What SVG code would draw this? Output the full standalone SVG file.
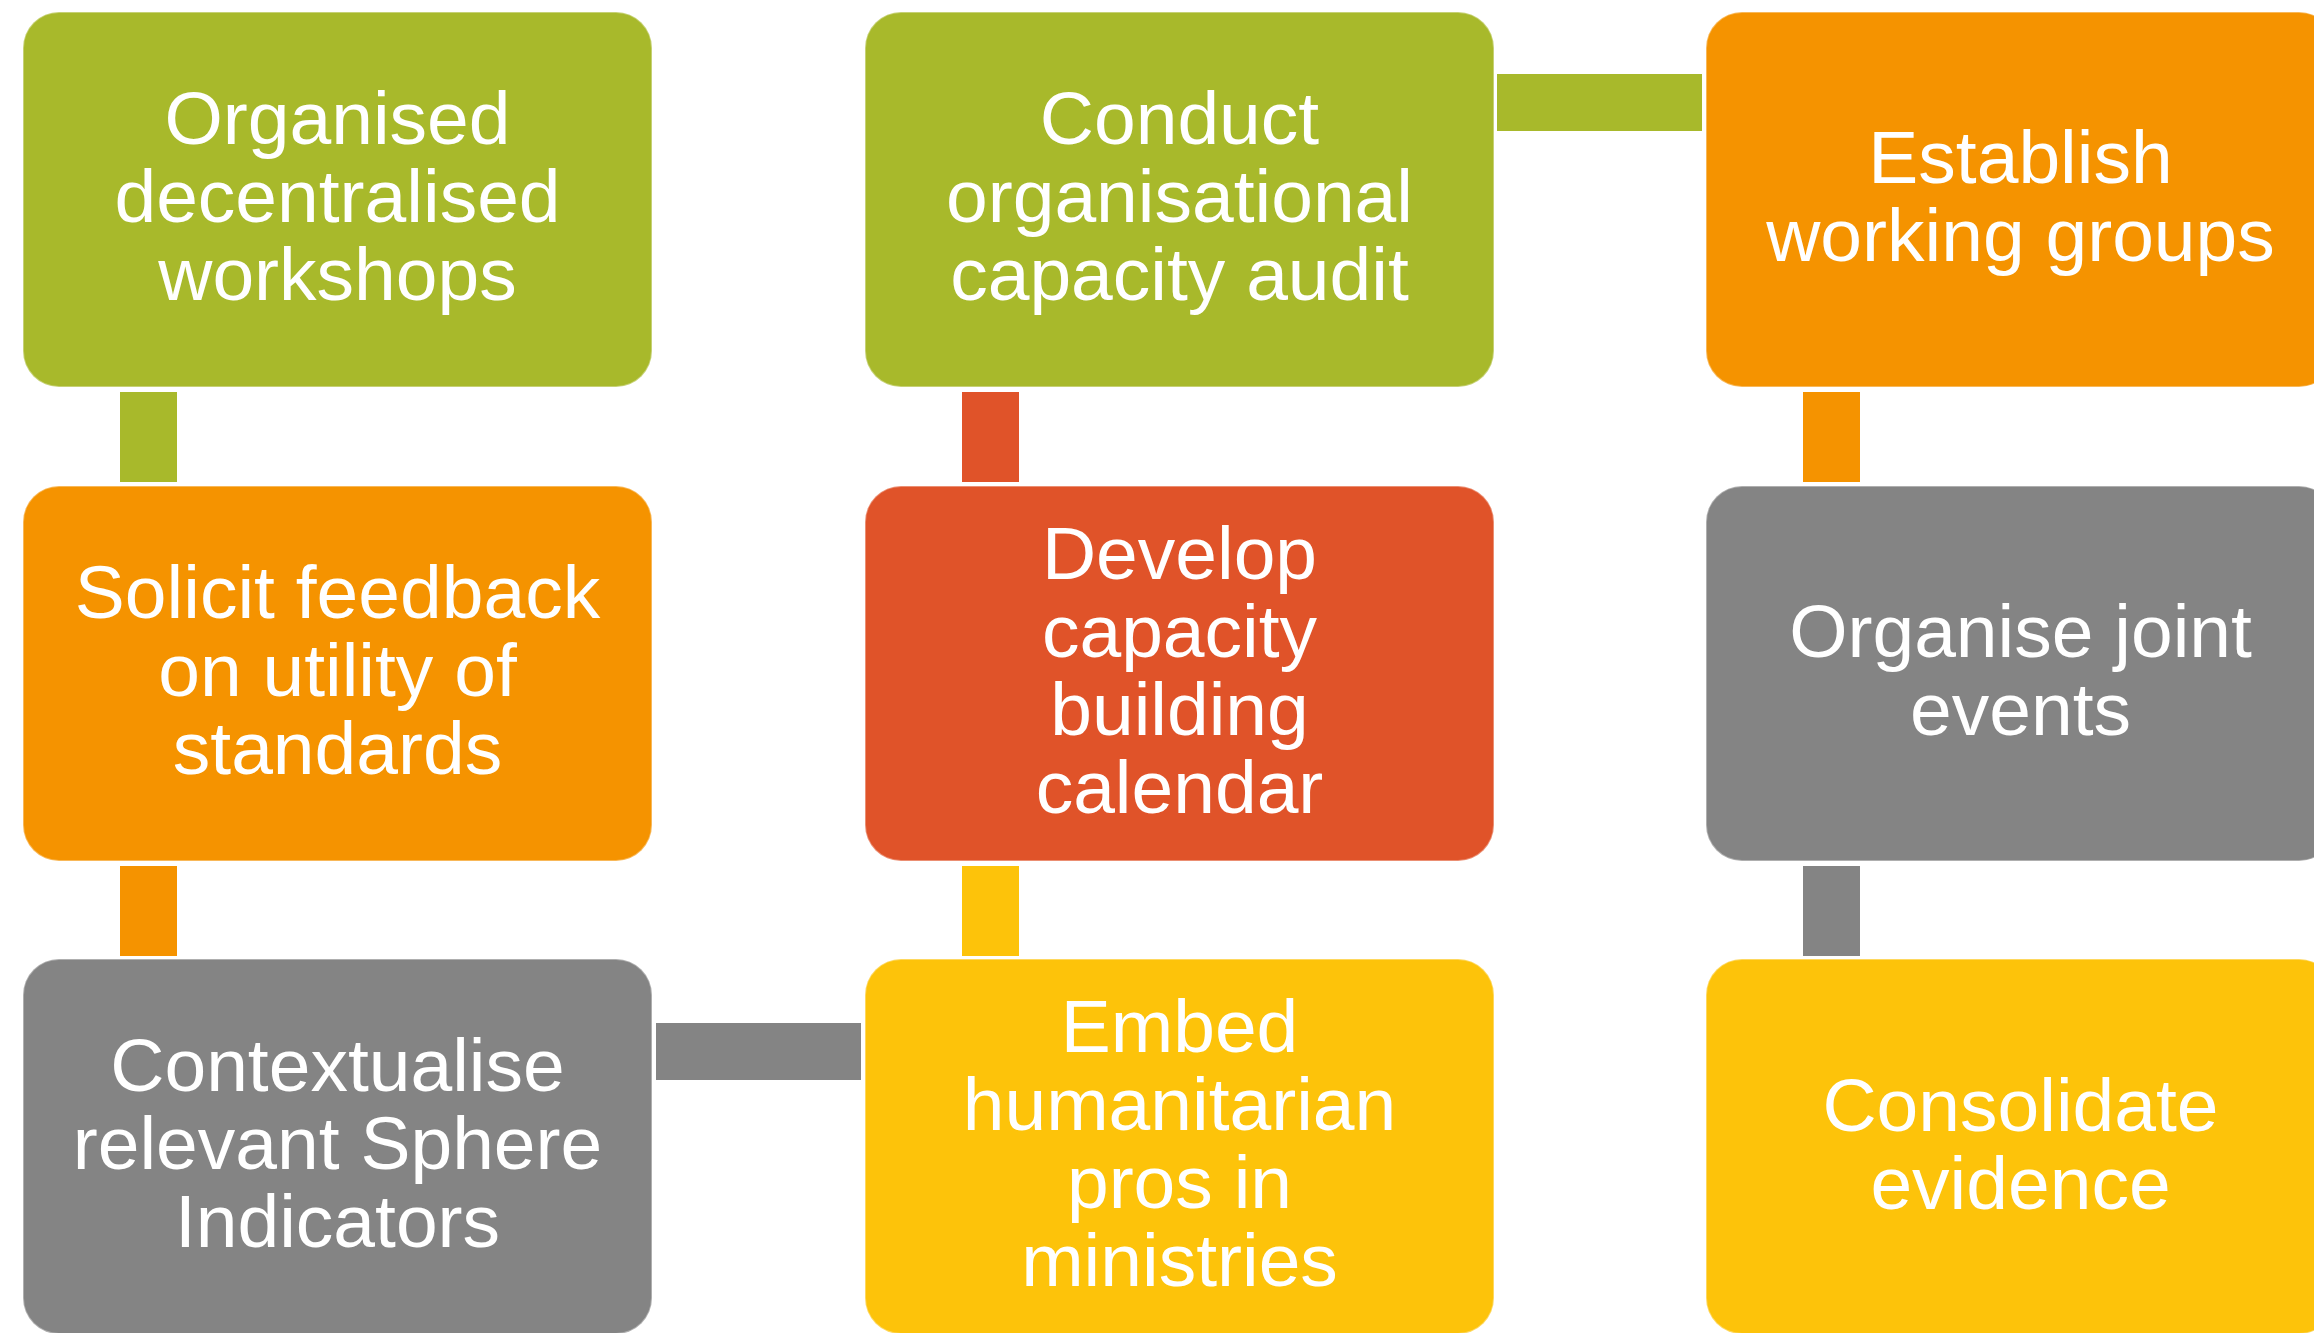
<svg xmlns="http://www.w3.org/2000/svg" width="2314" height="1333" viewBox="0 0 2314 1333">
<style>
.box{stroke:#ffffff;stroke-opacity:0.35;stroke-width:2}
.lbl{font-family:"Liberation Sans",Arial,sans-serif;font-size:75px;fill:#ffffff;text-anchor:middle}
.green{fill:#A8B92B}
.orange{fill:#F59300}
.red{fill:#E05329}
.gray{fill:#848484}
.yellow{fill:#FDC30A}
</style>
<rect width="2314" height="1333" fill="#ffffff"/>
<g id="connectors">
<rect class="green" x="120" y="392" width="57" height="90"/>
<rect class="orange" x="120" y="866" width="57" height="90"/>
<rect class="gray" x="656" y="1023" width="205" height="57"/>
<rect class="yellow" x="962" y="866" width="57" height="90"/>
<rect class="red" x="962" y="392" width="57" height="90"/>
<rect class="green" x="1497" y="74" width="205" height="57"/>
<rect class="orange" x="1803" y="392" width="57" height="90"/>
<rect class="gray" x="1803" y="866" width="57" height="90"/>
</g>
<g id="n1">
<rect class="box green" x="23" y="12" width="629" height="375" rx="36" ry="36"/>
<text class="lbl" x="337.5" y="144">Organised</text>
<text class="lbl" x="337.5" y="222">decentralised</text>
<text class="lbl" x="337.5" y="300">workshops</text>
</g>
<g id="n2">
<rect class="box orange" x="23" y="486" width="629" height="375" rx="36" ry="36"/>
<text class="lbl" x="337.5" y="618">Solicit feedback</text>
<text class="lbl" x="337.5" y="696">on utility of</text>
<text class="lbl" x="337.5" y="774">standards</text>
</g>
<g id="n3">
<rect class="box gray" x="23" y="959" width="629" height="375" rx="36" ry="36"/>
<text class="lbl" x="337.5" y="1091">Contextualise</text>
<text class="lbl" x="337.5" y="1169">relevant Sphere</text>
<text class="lbl" x="337.5" y="1247">Indicators</text>
</g>
<g id="n4">
<rect class="box yellow" x="865" y="959" width="629" height="375" rx="36" ry="36"/>
<text class="lbl" x="1179.5" y="1052">Embed</text>
<text class="lbl" x="1179.5" y="1130">humanitarian</text>
<text class="lbl" x="1179.5" y="1208">pros in</text>
<text class="lbl" x="1179.5" y="1286">ministries</text>
</g>
<g id="n5">
<rect class="box red" x="865" y="486" width="629" height="375" rx="36" ry="36"/>
<text class="lbl" x="1179.5" y="579">Develop</text>
<text class="lbl" x="1179.5" y="657">capacity</text>
<text class="lbl" x="1179.5" y="735">building</text>
<text class="lbl" x="1179.5" y="813">calendar</text>
</g>
<g id="n6">
<rect class="box green" x="865" y="12" width="629" height="375" rx="36" ry="36"/>
<text class="lbl" x="1179.5" y="144">Conduct</text>
<text class="lbl" x="1179.5" y="222">organisational</text>
<text class="lbl" x="1179.5" y="300">capacity audit</text>
</g>
<g id="n7">
<rect class="box orange" x="1706" y="12" width="629" height="375" rx="36" ry="36"/>
<text class="lbl" x="2020.5" y="183">Establish</text>
<text class="lbl" x="2020.5" y="261">working groups</text>
</g>
<g id="n8">
<rect class="box gray" x="1706" y="486" width="629" height="375" rx="36" ry="36"/>
<text class="lbl" x="2020.5" y="657">Organise joint</text>
<text class="lbl" x="2020.5" y="735">events</text>
</g>
<g id="n9">
<rect class="box yellow" x="1706" y="959" width="629" height="375" rx="36" ry="36"/>
<text class="lbl" x="2020.5" y="1131">Consolidate</text>
<text class="lbl" x="2020.5" y="1209">evidence</text>
</g>
</svg>
